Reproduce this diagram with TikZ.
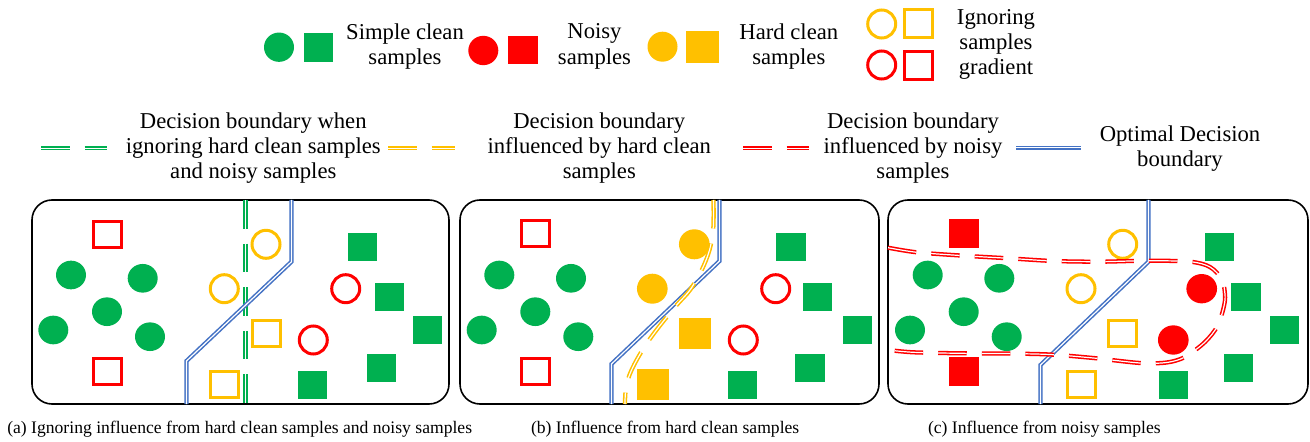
\documentclass[tikz,border=0pt]{standalone}
\usepackage{fontspec}
\setmainfont{Liberation Serif}
\usetikzlibrary{shapes.geometric}
\definecolor{cgreen}{HTML}{00B050}
\definecolor{cred}{HTML}{FF0000}
\definecolor{cyellow}{HTML}{FFC000}
\definecolor{cblue}{HTML}{4472C4}
\begin{document}
\begin{tikzpicture}[x=0.75pt,y=-0.75pt,
  every node/.style={inner sep=0pt, outer sep=0pt},
  dotf/.style={ellipse, minimum width=22.5pt, minimum height=21.5pt},
  gdot/.style={dotf, fill=cgreen},
  ydot/.style={dotf, fill=cyellow, minimum width=23pt, minimum height=22.5pt},
  rdot/.style={dotf, fill=cred, minimum width=23pt, minimum height=22pt},
  sqf/.style={rectangle, minimum width=22pt, minimum height=21pt},
  gsq/.style={sqf, fill=cgreen},
  ysq/.style={sqf, fill=cyellow, minimum width=24pt, minimum height=23.5pt},
  rsq/.style={sqf, fill=cred, minimum width=22.5pt, minimum height=21.75pt},
  circo/.style={circle, line width=2.25pt, minimum size=21pt},
  ycirc/.style={circo, draw=cyellow},
  rcirc/.style={circo, draw=cred},
  boxo/.style={rectangle, line width=2.25pt, minimum width=21pt, minimum height=19.5pt},
  ybox/.style={boxo, draw=cyellow},
  rbox/.style={boxo, draw=cred},
  panel/.style={draw=black, line width=1.2pt, rounded corners=15pt},
  dbl/.style={line width=1.15pt, double=white, double distance=0.9pt},
  dsh/.style={dash pattern=on 21.4pt off 11.3pt},
  bline/.style={dbl, draw=cblue, color=cblue},
  gline/.style={dbl, dsh, draw=cgreen, color=cgreen},
  yline/.style={dbl, dsh, draw=cyellow, color=cyellow},
  rline/.style={dbl, dsh, draw=cred, color=cred},
  lgA/.style={align=center, font=\fontsize{17}{19}\selectfont},
  lgB/.style={align=center, font=\fontsize{17}{19}\selectfont},
  capt/.style={anchor=west, font=\fontsize{13.2}{15}\selectfont},
]
\useasboundingbox (0,0) rectangle (1310,442);

% ---------- legend row 1 ----------
\node[gdot, minimum width=22.5pt, minimum height=22pt] (lgc) at (279,47.2) {};
\node[gsq, minimum width=22pt, minimum height=22pt] (lgs) at (318.7,47.2) {};
\node[lgA] (lgt) at (405,46.3) {Simple clean\\samples};
\node[rdot, minimum width=22.5pt, minimum height=22pt] (lrc) at (483.3,50.5) {};
\node[rsq, minimum width=22pt, minimum height=21.3pt] (lrs) at (523,50.2) {};
\node[lgA] (lrt) at (594.5,46.3) {Noisy\\samples};
\node[ydot, minimum width=22.5pt, minimum height=22.5pt] (lyc) at (662.5,46.7) {};
\node[ysq, minimum width=24.5pt, minimum height=23.8pt] (lys) at (702.3,46.8) {};
\node[lgA] (lyt) at (788.8,46.3) {Hard clean\\samples};
\node[ycirc] (lic1) at (881.7,24) {};
\node[ybox, minimum height=21pt] (lis1) at (918.7,23.8) {};
\node[rcirc] (lic2) at (881.7,65) {};
\node[rbox, minimum height=21pt] (lis2) at (918.7,65.7) {};
\node[lgA] (lit) at (996,44.4) {Ignoring\\samples\\gradient};

% ---------- legend row 2 ----------
\coordinate (g1) at (41,148.3);  \coordinate (g2) at (107,148.3);
\coordinate (y1) at (388,148.3); \coordinate (y2) at (455,148.3);
\coordinate (r1) at (743,148.3); \coordinate (r2) at (809,148.3);
\coordinate (b1) at (1016,147.7); \coordinate (b2) at (1081,147.7);
\draw[gline] (g1) -- (g2);
\draw[yline] (y1) -- (y2);
\draw[rline] (r1) -- (r2);
\draw[bline] (b1) -- (b2);
\node[lgB] (t1) at (253.3,148) {Decision boundary when\\ignoring hard clean samples\\and noisy samples};
\node[lgB] (t2) at (599.3,148) {Decision boundary\\influenced by hard clean\\samples};
\node[lgB] (t3) at (913,148) {Decision boundary\\influenced by noisy\\samples};
\node[lgB] (t4) at (1180,148.7) {Optimal Decision\\boundary};

% ---------- panel (a) ----------
\draw[panel] (32,200) rectangle (449,404);
\draw[gline] (245.5,200) -- (245.5,404);
\draw[bline] (291.5,200) -- (291.5,261.7) -- (186.5,361) -- (186.5,404);
\node[rbox] (a1) at (107,234) {};
\node[rbox] (a2) at (107,371) {};
\node[gdot] (a3) at (71,275) {};
\node[gdot] (a4) at (142.7,278.3) {};
\node[gdot] (a5) at (107,311.7) {};
\node[gdot] (a6) at (53.3,330) {};
\node[gdot] (a7) at (150,336.7) {};
\node[ycirc] (a8) at (266,244.3) {};
\node[ycirc] (a9) at (224.3,288.7) {};
\node[ybox] (a10) at (266,333.3) {};
\node[ybox] (a11) at (224.3,384.3) {};
\node[rcirc] (a12) at (345.7,288.7) {};
\node[rcirc] (a13) at (313.3,340) {};
\node[gsq] (a14) at (362.7,247.3) {};
\node[gsq] (a15) at (389.3,297.3) {};
\node[gsq] (a16) at (427.7,330) {};
\node[gsq] (a17) at (381.7,367.7) {};
\node[gsq] (a18) at (312.7,385) {};

% ---------- panel (b) ----------
\draw[panel] (460,200) rectangle (879,404);
\draw[bline] (719.5,200) -- (719.5,261) -- (611.5,364) -- (611.5,404);
\draw[yline] plot[smooth, tension=0.55] coordinates {(713.5,200) (713.3,228) (709.5,250) (701.7,270) (690,290) (676.7,305) (658,328) (645,346) (634.5,364) (628.3,378.3) (625.5,392) (625,404)};
\node[rbox] (b1n) at (535,233.3) {};
\node[rbox] (b2n) at (535,371) {};
\node[gdot] (b3) at (499.3,275) {};
\node[gdot] (b4) at (571,278.3) {};
\node[gdot] (b5) at (535.3,311.7) {};
\node[gdot] (b6) at (481.7,330) {};
\node[gdot] (b7) at (578.3,336.7) {};
\node[ydot] (b8) at (694.3,244.3) {};
\node[ydot] (b9) at (652.3,288.7) {};
\node[ysq] (b10) at (694.5,333.3) {};
\node[ysq] (b11) at (652.8,384.5) {};
\node[rcirc] (b12) at (775.7,288.7) {};
\node[rcirc] (b13) at (743.3,340) {};
\node[gsq] (b14) at (791,247.3) {};
\node[gsq] (b15) at (817.7,297.3) {};
\node[gsq] (b16) at (857.7,330) {};
\node[gsq] (b17) at (810,367.7) {};
\node[gsq] (b18) at (742.7,385) {};

% ---------- panel (c) ----------
\draw[panel] (888,200) rectangle (1308,404);
\draw[bline] (1148.5,200) -- (1148.5,261.7) -- (1040.5,365) -- (1040.5,404);
\node[ycirc] (c8) at (1122.7,244.3) {};
\node[ycirc] (c9) at (1081,288.7) {};
\node[ybox] (c10) at (1122.7,333.3) {};
\node[ybox] (c11) at (1081,384.3) {};
\node[rsq] (c1) at (964,233.3) {};
\node[rsq] (c2) at (964,371) {};
\node[gdot] (c3) at (927.7,275) {};
\node[gdot] (c4) at (999.3,278.3) {};
\node[gdot] (c5) at (963.7,311.7) {};
\node[gdot] (c6) at (910,330) {};
\node[gdot] (c7) at (1006.7,336.7) {};
\node[rdot] (c12) at (1201.7,288.7) {};
\node[rdot] (c13) at (1173.3,340) {};
\node[gsq] (c14) at (1219.3,247.3) {};
\node[gsq] (c15) at (1246,297.3) {};
\node[gsq] (c16) at (1284.3,330) {};
\node[gsq] (c17) at (1238.3,367.7) {};
\node[gsq] (c18) at (1173.3,385) {};
\draw[rline] plot[smooth, tension=0.5] coordinates {(888,247.7) (916.7,252.3) (963.3,255.7) (1008.3,258.3) (1053.3,261) (1100,261.7) (1146.7,260.7) (1190,261.7) (1210,267) (1222,280) (1225,300) (1218,325) (1205,342) (1185,357) (1166.7,362.5) (1140,363) (1093.3,358) (1050,354.5) (1003.3,353.5) (960,353.3) (913.3,352.3) (888,350)};

% ---------- captions ----------
\node[capt] (ca) at (7.3,429.5) {(a) Ignoring influence from hard clean samples and noisy samples};
\node[capt] (cb) at (531,429.5) {(b) Influence from hard clean samples};
\node[capt] (cc) at (928,429.5) {(c) Influence from noisy samples};
\end{tikzpicture}
\end{document}
